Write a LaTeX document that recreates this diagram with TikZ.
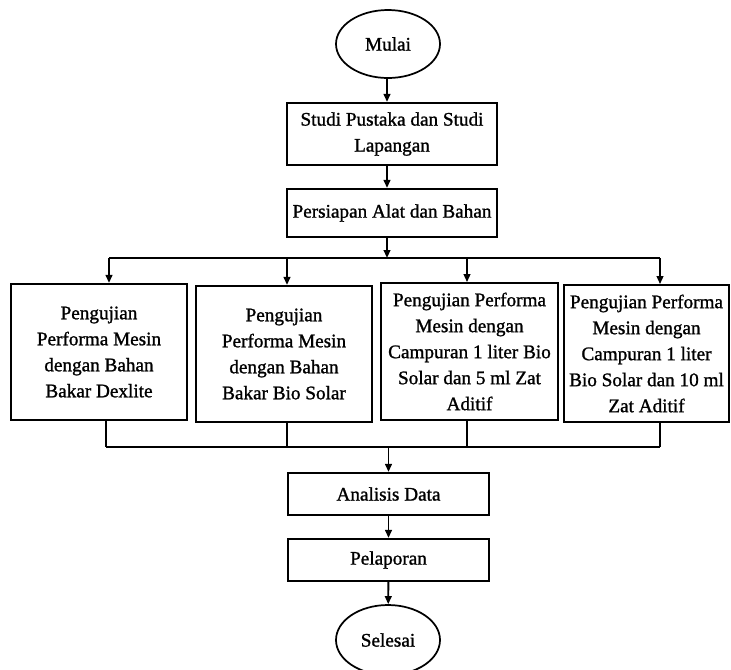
\documentclass[tikz,border=0pt]{standalone}
\usepackage{fontspec}
\setmainfont[FakeBold=1.2]{Liberation Serif}
\usepackage{tikz}
\usetikzlibrary{arrows.meta,calc,positioning,shapes.geometric}
\tikzset{
  fcbox/.style={draw=black, line width=1.6pt, align=center, inner sep=2pt, font=\fontsize{14.4}{19.5}\selectfont},
  fcterm/.style={draw=black, ellipse, line width=1.3pt, minimum width=78pt, minimum height=51pt, inner sep=1pt, font=\fontsize{14.4}{19.5}\selectfont},
  fcarrow/.style={-{Triangle[length=6pt,width=5pt]}, line width=1.4pt},
  fcline/.style={line width=1.4pt}
}

\begin{document}
\begin{tikzpicture}[x=0.75pt,y=-0.75pt]
  \useasboundingbox (0,0) rectangle (731,669);
  % alur atas
  \node[fcterm] (mulai) at (388,44) {Mulai};
  \node[fcbox, minimum width=158pt, minimum height=46.5pt] (studi) at (392,134) {Studi Pustaka dan Studi\\Lapangan};
  \node[fcbox, minimum width=158pt, minimum height=36pt] (siap) at (392,213) {Persiapan Alat dan Bahan};
  % empat pengujian
  \node[fcbox, minimum width=132pt, minimum height=102pt] (uji1) at (99,352) {Pengujian\\Performa Mesin\\dengan Bahan\\Bakar Dexlite};
  \node[fcbox, minimum width=132pt, minimum height=102pt] (uji2) at (284,354) {Pengujian\\Performa Mesin\\dengan Bahan\\Bakar Bio Solar};
  \node[fcbox, minimum width=132.5pt, minimum height=102.5pt] (uji3) at (469.5,351.5) {Pengujian Performa\\Mesin dengan\\Campuran 1 liter Bio\\Solar dan 5 ml Zat\\Aditif};
  \node[fcbox, minimum width=124pt, minimum height=102.5pt] (uji4) at (646.5,353.5) {Pengujian Performa\\Mesin dengan\\Campuran 1 liter\\Bio Solar dan 10 ml\\Zat Aditif};
  % alur bawah
  \node[fcbox, minimum width=150.75pt, minimum height=31.5pt] (analisis) at (388.5,494) {Analisis Data};
  \node[fcbox, minimum width=150.75pt, minimum height=31.5pt] (lapor) at (388.5,560) {Pelaporan};
  \node[fcterm, minimum height=52.5pt] (selesai) at (388,640) {Selesai};
  % titik percabangan
  \coordinate (a1) at (109,258);
  \coordinate (a2) at (287,258);
  \coordinate (a3) at (467,258);
  \coordinate (a4) at (660,258);
  \coordinate (b1) at (106,447);
  \coordinate (b2) at (287,447);
  \coordinate (b3) at (467,447);
  \coordinate (b4) at (660,447);
  \draw[fcarrow] (mulai.south -| 387,0) -- (studi.north -| 387,0);
  \draw[fcarrow] (studi.south -| 387,0) -- (siap.north -| 387,0);
  \draw[fcarrow] (siap.south -| 387,0) -- (a1 -| 387,0);
  \draw[fcline] (a1) -- (a4);
  \foreach \n in {1,...,4} {
    \draw[fcarrow] (a\n) -- (a\n |- uji\n.north);
    \draw[fcline] (uji\n.south -| b\n) -- (b\n);
  }
  \draw[fcline] (b1) -- (b4);
  \draw[fcarrow] (b1 -| analisis.north) -- (analisis.north);
  \draw[fcarrow] (analisis) -- (lapor);
  \draw[fcarrow] (lapor) -- (selesai);
\end{tikzpicture}
\end{document}
